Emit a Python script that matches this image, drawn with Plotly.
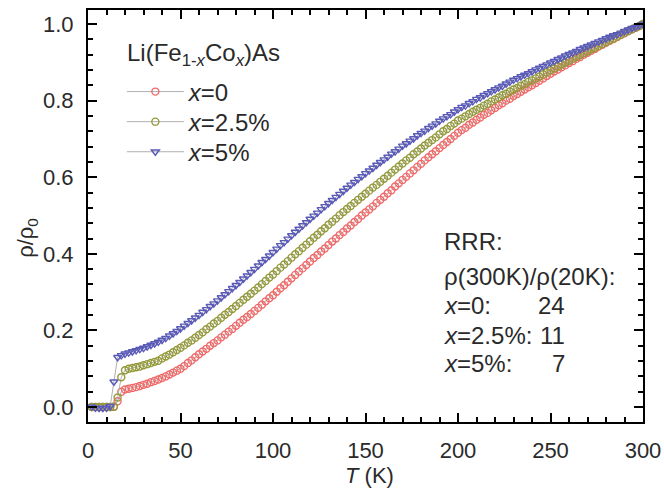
import plotly.graph_objects as go

T = [2, 4, 6, 8, 10, 12, 14, 16, 18, 20, 22, 24, 26, 28, 30, 32, 34, 36, 38, 40,
     42, 44, 46, 48, 50, 52, 54, 56, 58, 60, 62, 64, 66, 68, 70, 72, 74, 76, 78, 80,
     82, 84, 86, 88, 90, 92, 94, 96, 98, 100, 102, 104, 106, 108, 110, 112, 114, 116, 118, 120,
     122, 124, 126, 128, 130, 132, 134, 136, 138, 140, 142, 144, 146, 148, 150, 152, 154, 156, 158, 160,
     162, 164, 166, 168, 170, 172, 174, 176, 178, 180, 182, 184, 186, 188, 190, 192, 194, 196, 198, 200,
     202, 204, 206, 208, 210, 212, 214, 216, 218, 220, 222, 224, 226, 228, 230, 232, 234, 236, 238, 240,
     242, 244, 246, 248, 250, 252, 254, 256, 258, 260, 262, 264, 266, 268, 270, 272, 274, 276, 278, 280,
     282, 284, 286, 288, 290, 292, 294, 296, 298, 300]

rho_x0 = [0.000, 0.000, 0.000, 0.000, 0.000, 0.000, 0.001, 0.015, 0.040, 0.046,
          0.048, 0.050, 0.052, 0.055, 0.058, 0.061, 0.065, 0.068, 0.072, 0.076,
          0.080, 0.085, 0.090, 0.095, 0.100, 0.107, 0.115, 0.122, 0.130, 0.138,
          0.145, 0.152, 0.160, 0.167, 0.174, 0.182, 0.189, 0.197, 0.204, 0.212,
          0.220, 0.228, 0.235, 0.243, 0.251, 0.259, 0.267, 0.276, 0.284, 0.292,
          0.301, 0.310, 0.318, 0.327, 0.336, 0.345, 0.354, 0.362, 0.371, 0.380,
          0.389, 0.397, 0.406, 0.414, 0.423, 0.432, 0.440, 0.449, 0.457, 0.466,
          0.474, 0.483, 0.491, 0.500, 0.508, 0.516, 0.524, 0.533, 0.541, 0.549,
          0.558, 0.566, 0.576, 0.584, 0.593, 0.601, 0.610, 0.618, 0.627, 0.635,
          0.644, 0.652, 0.660, 0.668, 0.676, 0.684, 0.692, 0.700, 0.708, 0.716,
          0.723, 0.729, 0.737, 0.743, 0.750, 0.756, 0.763, 0.768, 0.775, 0.781,
          0.788, 0.793, 0.800, 0.805, 0.812, 0.817, 0.823, 0.829, 0.835, 0.840,
          0.846, 0.852, 0.858, 0.864, 0.870, 0.876, 0.881, 0.887, 0.892, 0.898,
          0.903, 0.909, 0.914, 0.920, 0.925, 0.930, 0.935, 0.941, 0.946, 0.951,
          0.956, 0.961, 0.966, 0.971, 0.976, 0.981, 0.986, 0.990, 0.995, 1.000]

rho_x25 = [0.000, 0.000, 0.000, 0.000, 0.000, 0.000, 0.001, 0.025, 0.078, 0.096,
           0.100, 0.102, 0.104, 0.106, 0.109, 0.112, 0.115, 0.118, 0.121, 0.127,
           0.132, 0.137, 0.143, 0.149, 0.155, 0.161, 0.168, 0.174, 0.181, 0.188,
           0.195, 0.203, 0.210, 0.218, 0.225, 0.233, 0.241, 0.248, 0.256, 0.264,
           0.272, 0.280, 0.288, 0.296, 0.304, 0.312, 0.321, 0.329, 0.338, 0.346,
           0.355, 0.364, 0.372, 0.381, 0.390, 0.399, 0.407, 0.416, 0.424, 0.433,
           0.442, 0.450, 0.459, 0.467, 0.476, 0.484, 0.492, 0.501, 0.509, 0.517,
           0.525, 0.533, 0.541, 0.549, 0.557, 0.565, 0.573, 0.580, 0.588, 0.596,
           0.604, 0.612, 0.620, 0.628, 0.636, 0.644, 0.651, 0.660, 0.667, 0.675,
           0.683, 0.690, 0.697, 0.704, 0.712, 0.720, 0.726, 0.734, 0.740, 0.748,
           0.753, 0.759, 0.765, 0.771, 0.776, 0.781, 0.787, 0.792, 0.798, 0.803,
           0.808, 0.814, 0.818, 0.824, 0.829, 0.833, 0.839, 0.843, 0.849, 0.853,
           0.858, 0.863, 0.869, 0.874, 0.879, 0.884, 0.889, 0.894, 0.899, 0.904,
           0.909, 0.914, 0.919, 0.924, 0.929, 0.934, 0.938, 0.943, 0.948, 0.953,
           0.958, 0.962, 0.967, 0.972, 0.977, 0.982, 0.986, 0.991, 0.995, 1.000]

rho_x5 = [0.001, -0.002, -0.003, -0.003, -0.002, 0.002, 0.066, 0.130, 0.135, 0.139,
          0.142, 0.145, 0.148, 0.151, 0.154, 0.158, 0.162, 0.166, 0.170, 0.175,
          0.180, 0.186, 0.192, 0.198, 0.205, 0.212, 0.219, 0.226, 0.233, 0.240,
          0.248, 0.255, 0.263, 0.270, 0.278, 0.286, 0.294, 0.302, 0.310, 0.318,
          0.326, 0.335, 0.343, 0.352, 0.360, 0.369, 0.378, 0.386, 0.395, 0.404,
          0.413, 0.422, 0.430, 0.439, 0.448, 0.457, 0.465, 0.474, 0.482, 0.491,
          0.499, 0.507, 0.516, 0.524, 0.532, 0.540, 0.548, 0.556, 0.564, 0.572,
          0.580, 0.587, 0.595, 0.602, 0.610, 0.617, 0.624, 0.632, 0.639, 0.646,
          0.653, 0.661, 0.667, 0.674, 0.682, 0.688, 0.695, 0.701, 0.709, 0.715,
          0.721, 0.728, 0.734, 0.740, 0.747, 0.753, 0.759, 0.764, 0.771, 0.777,
          0.783, 0.787, 0.793, 0.798, 0.804, 0.808, 0.814, 0.819, 0.824, 0.829,
          0.834, 0.838, 0.844, 0.849, 0.854, 0.858, 0.863, 0.867, 0.871, 0.876,
          0.881, 0.885, 0.890, 0.894, 0.899, 0.903, 0.908, 0.912, 0.917, 0.921,
          0.925, 0.929, 0.934, 0.938, 0.942, 0.946, 0.950, 0.954, 0.958, 0.962,
          0.966, 0.970, 0.973, 0.977, 0.981, 0.985, 0.989, 0.992, 0.996, 1.000]

series_names = ["<i>x</i>=0", "<i>x</i>=2.5%", "<i>x</i>=5%"]
series_vals = [rho_x0, rho_x25, rho_x5]
series_colors = ["#f06a6a", "#949a3c", "#5a5ab8"]
series_symbols = ["circle-open", "circle-open", "triangle-down-open"]
legend_ids = ["legend", "legend2", "legend3"]

rrr_labels = ["RRR:", "ρ(300K)/ρ(20K):", "<i>x</i>=0:", "<i>x</i>=2.5%:", "<i>x</i>=5%:"]
rrr_values = ["", "", "24", "11", "7"]

FONT = "Liberation Sans, Arial, sans-serif"
TXT = "#2a2a2a"

fig = go.Figure()
for name, vals, col, sym, lg in zip(series_names, series_vals, series_colors,
                                    series_symbols, legend_ids):
    fig.add_trace(go.Scatter(
        x=T, y=vals, name=name, mode="lines+markers", legend=lg,
        line=dict(color="#b0b0b0", width=1),
        marker=dict(symbol=sym, size=7, color=col, line=dict(width=1.4, color=col)),
    ))

axis_common = dict(
    showline=True, linecolor="black", linewidth=2, mirror="allticks",
    ticks="inside", ticklen=9, tickwidth=2, tickcolor="black",
    showgrid=False, zeroline=False, automargin=False,
    tickfont=dict(family=FONT, size=22, color=TXT),
)

fig.update_xaxes(
    range=[0, 300], dtick=50, tick0=0,
    minor=dict(ticks="inside", dtick=10, ticklen=5, tickwidth=1.5, tickcolor="black"),
    ticklabelstandoff=8,
    **axis_common,
)
fig.update_yaxes(
    range=[-0.039, 1.0366], dtick=0.2, tick0=0, tickformat=".1f",
    minor=dict(ticks="inside", dtick=0.04, ticklen=5, tickwidth=1.5, tickcolor="black"),
    ticklabelstandoff=8,
    **axis_common,
)

# axis titles
fig.add_annotation(text="<i>T</i> (K)", xref="paper", yref="paper", x=0.508, y=-0.129,
                   xanchor="center", yanchor="middle", showarrow=False,
                   font=dict(family=FONT, size=22, color=TXT))
fig.add_annotation(text="ρ/ρ<sub>0</sub>", xref="paper", yref="paper", x=-0.11, y=0.447,
                   xanchor="center", yanchor="middle", showarrow=False, textangle=-90,
                   font=dict(family=FONT, size=22, color=TXT))

ys = [0.437, 0.354, 0.282, 0.211, 0.141]
for lab, val, yy in zip(rrr_labels, rrr_values, ys):
    fig.add_annotation(text=lab, xref="paper", yref="paper", x=0.638, y=yy,
                       xanchor="left", yanchor="middle", showarrow=False,
                       font=dict(family=FONT, size=24, color=TXT))
    if val:
        fig.add_annotation(text=val, xref="paper", yref="paper", x=0.863, y=yy,
                           xanchor="right", yanchor="middle", showarrow=False,
                           font=dict(family=FONT, size=24, color=TXT))

# legend title
fig.add_annotation(text="Li(Fe<sub>1-<i>x</i></sub>Co<sub><i>x</i></sub>)As",
                   xref="paper", yref="paper", x=0.066, y=0.893,
                   xanchor="left", yanchor="middle", showarrow=False,
                   font=dict(family=FONT, size=24, color=TXT))

leg_common = dict(xanchor="left", yanchor="middle", bgcolor="rgba(0,0,0,0)",
                  borderwidth=0, itemwidth=57,
                  font=dict(family=FONT, size=24, color=TXT))
leg_y = [0.801, 0.728, 0.655]

fig.update_layout(
    width=664, height=494,
    margin=dict(l=88, r=21, t=10, b=72, autoexpand=False),
    paper_bgcolor="white", plot_bgcolor="white",
    font=dict(family=FONT, size=22, color=TXT),
    legend=dict(x=0.061, y=leg_y[0], **leg_common),
    legend2=dict(x=0.061, y=leg_y[1], **leg_common),
    legend3=dict(x=0.061, y=leg_y[2], **leg_common),
    showlegend=True,
)

fig.write_html("out.html", config={"displayModeBar": False},
               post_script="document.body.style.margin='0';document.body.style.padding='0';")
